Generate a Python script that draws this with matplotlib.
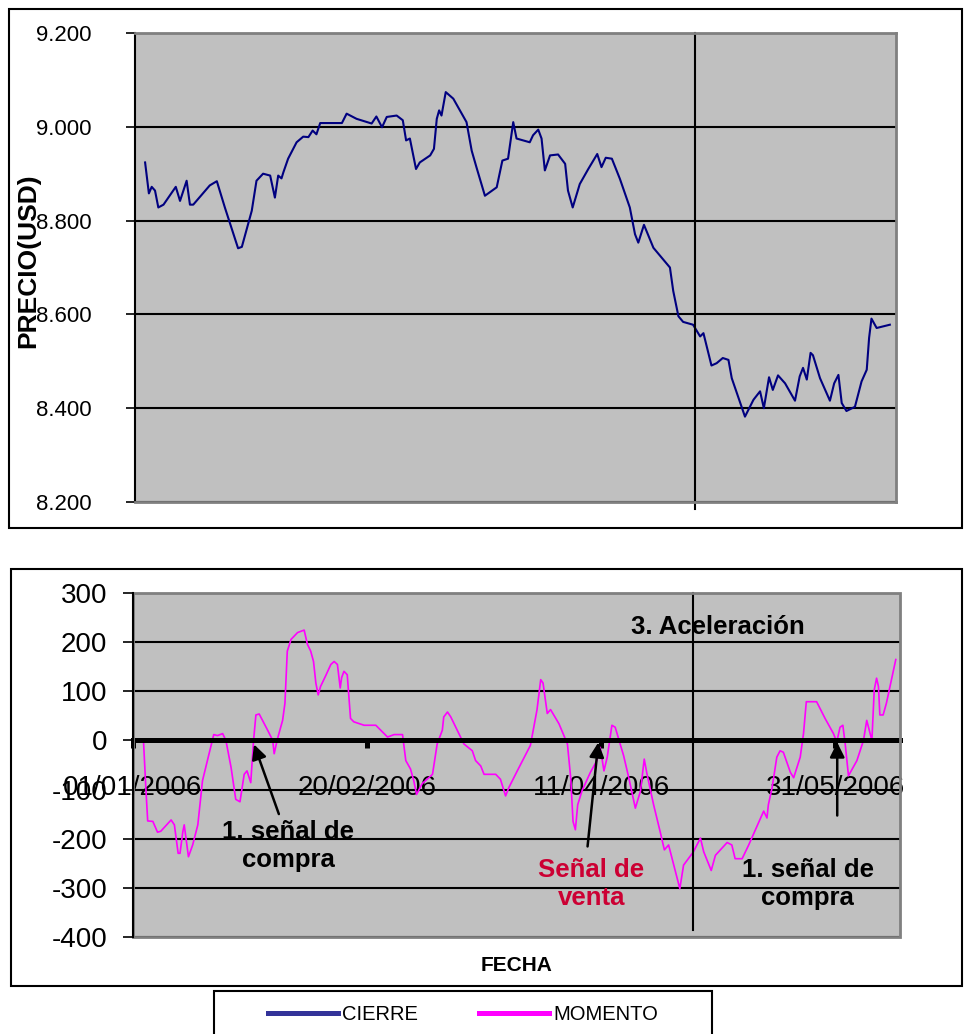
import numpy as np
import pandas as pd
import matplotlib
matplotlib.use("Agg")
import matplotlib.pyplot as plt
import matplotlib.dates as mdates
from matplotlib.patches import Rectangle
from matplotlib.lines import Line2D
from matplotlib.ticker import FixedLocator, FormatStrFormatter

plt.rcParams['font.family'] = ['Liberation Sans', 'DejaVu Sans']
plt.rcParams['axes.unicode_minus'] = False

# CIERRE: dias desde 01/01/2006 y precio
cierre_dia = [3.2, 4.0, 4.6, 5.3, 6.0, 7.1, 9.7, 10.6, 12.0, 12.7, 13.4, 16.9, 18.4, 20.1,
              22.9, 23.7, 25.8, 26.8, 28.2, 29.7, 30.7, 31.4, 32.1, 32.5, 33.5, 35.3, 36.7,
              37.8, 38.7, 39.5, 40.3, 42.4, 44.9, 45.9, 48.0, 51.2, 52.2, 53.4, 54.4, 56.5,
              57.8, 58.5, 59.3, 60.6, 61.4, 63.6, 64.4, 65.0, 65.5, 66.0, 66.9, 68.5, 71.3,
              72.4, 73.4, 75.2, 77.7, 78.9, 80.1, 81.2, 81.9, 84.7, 85.4, 86.5, 87.2, 87.9,
              89.0, 90.7, 92.2, 92.8, 93.8, 95.3, 97.1, 99.0, 99.9, 100.8, 102.1, 103.8,
              105.9, 107.0, 107.7, 108.9, 110.9, 114.4, 115.1, 116.2, 117.2, 119.3, 120.8,
              121.5, 123.2, 124.3, 125.6, 126.8, 127.5, 130.3, 132.1, 133.5, 134.3, 135.4,
              136.2, 137.3, 138.8, 140.9, 141.9, 142.6, 143.4, 144.2, 144.7, 146.2, 148.3,
              149.2, 150.1, 150.8, 151.8, 153.6, 155.0, 156.1, 156.6, 157.1, 158.2, 161.0]
cierre_valor = [8.924, 8.858, 8.872, 8.864, 8.828, 8.834, 8.872, 8.842, 8.885, 8.834, 8.834,
                8.875, 8.884, 8.828, 8.741, 8.744, 8.821, 8.885, 8.900, 8.896, 8.849, 8.896,
                8.890, 8.903, 8.932, 8.967, 8.979, 8.978, 8.992, 8.984, 9.008, 9.008, 9.008,
                9.028, 9.017, 9.007, 9.022, 8.999, 9.021, 9.024, 9.014, 8.971, 8.975, 8.910,
                8.924, 8.939, 8.953, 9.017, 9.035, 9.024, 9.074, 9.060, 9.010, 8.949, 8.914,
                8.853, 8.871, 8.928, 8.932, 9.010, 8.975, 8.967, 8.982, 8.994, 8.975, 8.907,
                8.939, 8.941, 8.921, 8.864, 8.828, 8.878, 8.910, 8.942, 8.914, 8.934, 8.932,
                8.889, 8.828, 8.771, 8.753, 8.791, 8.742, 8.700, 8.650, 8.596, 8.584, 8.578,
                8.553, 8.560, 8.491, 8.496, 8.507, 8.503, 8.464, 8.382, 8.418, 8.436, 8.400,
                8.466, 8.439, 8.470, 8.453, 8.416, 8.468, 8.486, 8.461, 8.518, 8.513, 8.464,
                8.416, 8.453, 8.471, 8.411, 8.394, 8.403, 8.457, 8.482, 8.550, 8.591, 8.571,
                8.578]

# MOMENTO
momento_dia = [2.3, 2.8, 3.2, 4.3, 5.3, 6.0, 8.2, 8.9, 9.7, 10.1, 10.7, 11.0, 11.9, 12.8,
               13.9, 14.9, 16.3, 17.3, 18.1, 19.2, 19.9, 21.0, 22.0, 22.9, 23.8, 24.4, 25.2,
               25.8, 26.3, 27.0, 28.8, 29.9, 30.2, 30.9, 32.0, 32.5, 33.0, 33.8, 35.2, 36.6,
               37.3, 38.0, 38.6, 39.1, 39.6, 40.1, 41.2, 42.3, 43.0, 43.7, 44.3, 44.6, 45.1,
               45.8, 46.5, 47.2, 49.4, 51.9, 54.4, 55.8, 57.6, 58.3, 59.3, 60.0, 60.6, 61.8,
               64.0, 65.0, 66.1, 66.4, 67.2, 67.9, 70.7, 72.5, 73.2, 74.3, 75.0, 77.5, 78.5,
               79.6, 80.3, 82.1, 84.9, 86.3, 87.1, 87.6, 88.5, 89.2, 91.0, 92.8, 93.5, 94.0,
               94.5, 95.0, 95.9, 97.7, 99.1, 99.8, 100.6, 101.3, 102.3, 103.0, 104.8, 105.9,
               107.3, 108.4, 109.2, 109.8, 111.2, 112.6, 113.5, 114.4, 115.5, 116.8, 117.6,
               119.7, 121.2, 121.9, 123.5, 124.4, 126.9, 127.9, 128.6, 130.1, 131.5, 134.7,
               135.4, 135.7, 136.5, 137.5, 138.2, 138.9, 140.4, 141.1, 142.5, 143.2, 143.8,
               146.0, 147.8, 149.6, 150.3, 151.0, 151.6, 152.1, 152.8, 154.6, 156.0, 156.7,
               157.8, 158.3, 158.8, 159.2, 159.5, 160.2, 160.9, 162.9]
momento_valor = [0, -96, -164, -165, -187, -185, -162, -172, -230, -230, -186, -172, -237,
                 -213, -172, -82, -27, 12, 10, 14, 0, -55, -120, -125, -69, -62, -86, 0, 52,
                 54, 21, 0, -27, 3, 41, 76, 182, 206, 220, 225, 196, 182, 161, 117, 93, 110,
                 132, 155, 161, 155, 107, 128, 141, 134, 45, 38, 31, 31, 7, 12, 12, -41, -58,
                 -82, -110, -88, -69, -7, 21, 48, 58, 48, -7, -21, -41, -52, -69, -69, -79,
                 -113, -96, -62, -10, 62, 124, 117, 55, 63, 34, -7, -76, -165, -182, -131,
                 -103, -65, -41, -14, -62, -34, 31, 27, -31, -76, -138, -103, -38, -69, -131,
                 -186, -223, -213, -254, -302, -254, -227, -199, -227, -265, -234, -208, -213,
                 -241, -241, -213, -144, -158, -131, -96, -34, -21, -24, -65, -76, -34, 14, 79,
                 79, 45, 14, -3, 27, 31, -7, -72, -41, 0, 41, 0, 103, 127, 110, 52, 52, 76, 165]

cierre_ticks = [8.2, 8.4, 8.6, 8.8, 9.0, 9.2]
momento_ticks = [-400, -300, -200, -100, 0, 100, 200, 300]
fecha_ticks = [0, 50, 100, 150]

base = mdates.date2num(pd.Timestamp('2006-01-01'))
t1 = base + np.array(cierre_dia)
t2 = base + np.array(momento_dia)
linea_v = base + 119.7

W, H = 965, 1034
fig = plt.figure(figsize=(W / 100, H / 100), dpi=100)


def fx(px):
    return px / W


def fy(py):
    return 1 - py / H


# marcos de los graficos
fig.add_artist(Rectangle((fx(9), fy(528)), fx(962) - fx(9), (528 - 9) / H,
                         transform=fig.transFigure, fill=False, ec='black', lw=1.5))
fig.add_artist(Rectangle((fx(11), fy(986)), fx(962) - fx(11), (986 - 569) / H,
                         transform=fig.transFigure, fill=False, ec='black', lw=1.5))
fig.add_artist(Rectangle((fx(214), fy(1042)), fx(712) - fx(214), (1042 - 991) / H,
                         transform=fig.transFigure, fill=False, ec='black', lw=1.5))

gris = '#C0C0C0'

# ---- precio
ax1 = fig.add_axes([fx(135), fy(502), (896 - 135) / W, (502 - 33) / H])
ax1.set_facecolor(gris)
ax1.plot(t1, cierre_valor, color='#000080', lw=1.5)
ax1.set_xlim(base + 1.06, base + 162.3)
ax1.set_ylim(8.2, 9.2)
ax1.set_yticks(cierre_ticks)
ax1.yaxis.set_major_formatter(FormatStrFormatter('%.3f'))
ax1.set_xticks([])
ax1.grid(axis='y', color='black', lw=1.5)
for s in ['top', 'right', 'bottom']:
    ax1.spines[s].set_color('#808080')
    ax1.spines[s].set_linewidth(2)
ax1.spines['left'].set_color('black')
ax1.spines['left'].set_linewidth(1.5)
ax1.tick_params(axis='y', direction='out', length=6.5, width=1.2, pad=25, labelsize=16)
ax1.set_ylabel('PRECIO(USD)', fontsize=19, fontweight='bold')
ax1.yaxis.set_label_coords(-0.124, 0.515)
ax1.axvline(linea_v, ymin=-0.015, ymax=1, color='black', lw=1.5, clip_on=False)

# ---- momento
ax2 = fig.add_axes([fx(132.7), fy(936.7), (900 - 132.7) / W, (936.7 - 593.3) / H])
ax2.set_facecolor(gris)
ax2.plot(t2, momento_valor, color='#FF00FF', lw=1.2)
ax2.set_xlim(base, base + 163.8)
ax2.set_ylim(-400, 300)
ax2.set_yticks(momento_ticks)
ax2.xaxis.set_major_locator(FixedLocator(base + np.array(fecha_ticks)))
ax2.xaxis.set_major_formatter(mdates.DateFormatter('%d/%m/%Y'))
ax2.grid(axis='y', color='black', lw=1.5)
ax2.spines['bottom'].set_position(('data', 0))
ax2.spines['bottom'].set_linewidth(3.6)
ax2.spines['bottom'].set_color('black')
ax2.spines['top'].set_visible(False)
ax2.spines['right'].set_visible(False)
ax2.spines['left'].set_color('black')
ax2.spines['left'].set_linewidth(1.5)
ax2.spines['left'].set_zorder(4)
ax2.add_patch(Rectangle((0, 0), 1, 1, transform=ax2.transAxes, fill=False,
                        ec='#808080', lw=2, clip_on=False, zorder=3))
ax2.tick_params(axis='x', direction='out', length=6, width=3.6, pad=19, labelsize=20)
ax2.tick_params(axis='y', direction='out', length=7.5, width=1.2, pad=11, labelsize=20)
ax2.set_xlabel('FECHA', fontsize=15, fontweight='bold')
ax2.xaxis.set_label_coords(0.5, -0.055)
ax2.axvline(linea_v, ymin=0.02, ymax=1, color='black', lw=1.5, clip_on=False)

flecha = dict(arrowstyle='-|>', color='black', lw=1.8, mutation_scale=22, shrinkA=0, shrinkB=0)
ax2.annotate('', xy=(base + 25.9, -8), xytext=(base + 31.2, -150), arrowprops=flecha)
ax2.annotate('', xy=(base + 99.4, -4), xytext=(base + 97.1, -216), arrowprops=flecha)
ax2.annotate('', xy=(base + 150.4, -4), xytext=(base + 150.4, -153), arrowprops=flecha)

ax2.text(base + 33.2, -215, '1. señal de\ncompra', ha='center', va='center',
         fontsize=18.5, fontweight='bold')
ax2.text(base + 97.9, -292, 'Señal de\nventa', ha='center', va='center',
         fontsize=18.5, fontweight='bold', color='#CC0033')
ax2.text(base + 144.1, -292, '1. señal de\ncompra', ha='center', va='center',
         fontsize=18.5, fontweight='bold')
ax2.text(base + 125, 232, '3. Aceleración', ha='center', va='center',
         fontsize=18.5, fontweight='bold')

# leyenda
handles = [Line2D([], [], color='#333399', lw=3.6), Line2D([], [], color='#FF00FF', lw=3.6)]
fig.legend(handles, ['CIERRE', 'MOMENTO'], loc='center', bbox_to_anchor=(fx(463), fy(1015)),
           ncol=2, frameon=False, fontsize=14.5, handlelength=3.5, handletextpad=0.2,
           columnspacing=3.0)

fig.savefig('out.png', dpi=100)
